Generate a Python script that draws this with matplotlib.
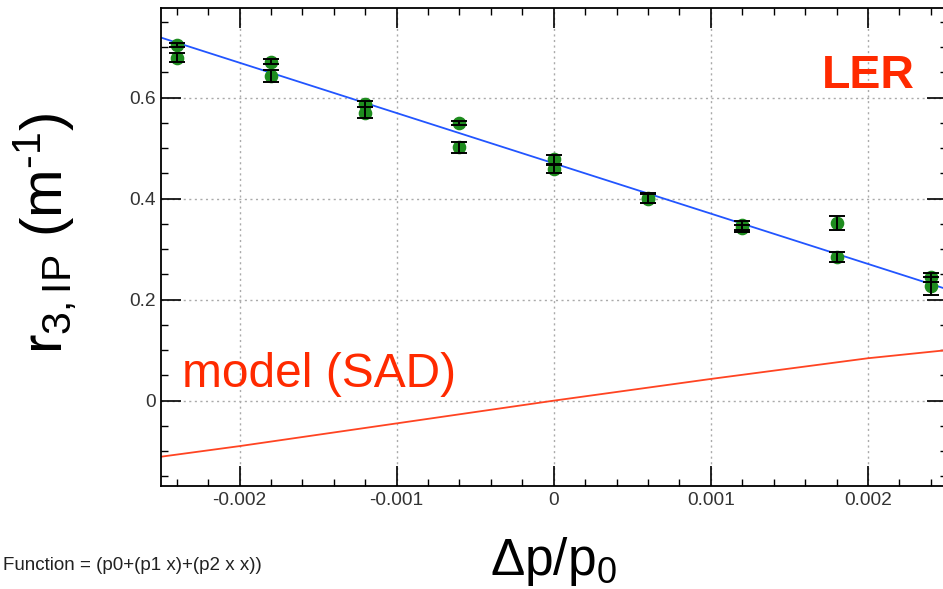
import matplotlib
matplotlib.use("Agg")
import matplotlib.pyplot as plt
from matplotlib.ticker import MultipleLocator, FixedLocator, FixedFormatter

# ---- data ----
dp = [-0.0024, -0.0024, -0.0018, -0.0018, -0.0012, -0.0012, -0.0006, -0.0006,
      0.0, 0.0, 0.0006, 0.0006, 0.0012, 0.0012, 0.0018, 0.0018, 0.0024, 0.0024]
r3 = [0.704, 0.679, 0.671, 0.643, 0.587, 0.570, 0.550, 0.502,
      0.478, 0.459, 0.401, 0.400, 0.347, 0.341, 0.352, 0.285, 0.244, 0.227]
r3_err = [0.004, 0.009, 0.005, 0.012, 0.0055, 0.011, 0.0043, 0.011,
          0.009, 0.0076, 0.0105, 0.009, 0.0085, 0.007, 0.014, 0.010, 0.0083, 0.0175]

fit_x = [-0.0025, 0.0025]
fit_y = [0.719, 0.221]

model_x = [-0.0025, -0.002, -0.001, 0.0, 0.001, 0.002, 0.0025]
model_y = [-0.111, -0.090, -0.045, 0.0, 0.043, 0.084, 0.100]

xticks = [-0.002, -0.001, 0.0, 0.001, 0.002]
xtick_labels = ["-0.002", "-0.001", "0", "0.001", "0.002"]
yticks = [0.0, 0.2, 0.4, 0.6]
ytick_labels = ["0", "0.2", "0.4", "0.6"]

# ---- figure ----
plt.rcParams['font.family'] = ['Liberation Sans', 'DejaVu Sans']
plt.rcParams['mathtext.fontset'] = 'custom'
plt.rcParams['mathtext.rm'] = 'Liberation Sans'
plt.rcParams['mathtext.it'] = 'Liberation Sans'

W, H = 943, 589
fig = plt.figure(figsize=(W / 100, H / 100), dpi=100)
fig.patch.set_facecolor('white')

def fx(px):
    return px / W

def fy(py):
    return 1 - py / H

left, right, top, bottom = 161, 946.5, 8, 486
ax = fig.add_axes([fx(left), fy(bottom), fx(right - left), (bottom - top) / H])
ax.set_xlim(-0.0025, 0.0025)
ax.set_ylim(-0.169, 0.7776)

for s in ax.spines.values():
    s.set_linewidth(1.3)
    s.set_color('black')

ax.xaxis.set_major_locator(FixedLocator(xticks))
ax.xaxis.set_major_formatter(FixedFormatter(xtick_labels))
ax.yaxis.set_major_locator(FixedLocator(yticks))
ax.yaxis.set_major_formatter(FixedFormatter(ytick_labels))
ax.xaxis.set_minor_locator(MultipleLocator(0.0002))
ax.yaxis.set_minor_locator(MultipleLocator(0.05))
ax.tick_params(which='both', direction='in', top=True, right=True, color='black')
ax.tick_params(which='major', length=14.5, width=1.2, labelsize=13.8, labelcolor='#333333', pad=4)
ax.tick_params(which='minor', length=5, width=1.0)

ax.grid(True, which='major', color='#aaaaaa', linestyle=(0, (1.5, 2.5)), linewidth=1.0)
ax.set_axisbelow(True)

ax.plot(model_x, model_y, color='#ff4422', linewidth=1.3, zorder=2)
ax.plot(fit_x, fit_y, color='#2255ff', linewidth=1.3, zorder=2.5)
ax.plot(dp, r3, linestyle='none', marker='o', markersize=8.8,
        markerfacecolor='#1e8c1e', markeredgecolor='#1e8c1e', zorder=3)
ax.errorbar(dp, r3, yerr=r3_err, fmt='none', ecolor='black', elinewidth=1.4,
            capsize=6, capthick=1.4, zorder=4)

# ---- texts ----
fig.text(fx(822), fy(88), "LER", color='#ff2a00', fontsize=33.5, fontweight='bold',
         ha='left', va='baseline')
fig.text(fx(182), fy(387), "model (SAD)", color='#ff2a00', fontsize=34.5,
         ha='left', va='baseline')
fig.text(fx(45), fy(233), r'$\mathregular{r_{3,IP}\ (m^{\text{-}1})}$', fontsize=42,
         rotation=90, ha='center', va='center', color='black')
fig.text(fx(553), fy(561), r'$\mathregular{\Delta p/p_0}$', fontsize=37,
         ha='center', va='center', color='black')
fig.text(fx(3), fy(566), "Function = (p0+(p1 x)+(p2 x x))",
         fontsize=13.5, ha='left', va='center', color='#222222')

fig.savefig("out.png", dpi=100)
